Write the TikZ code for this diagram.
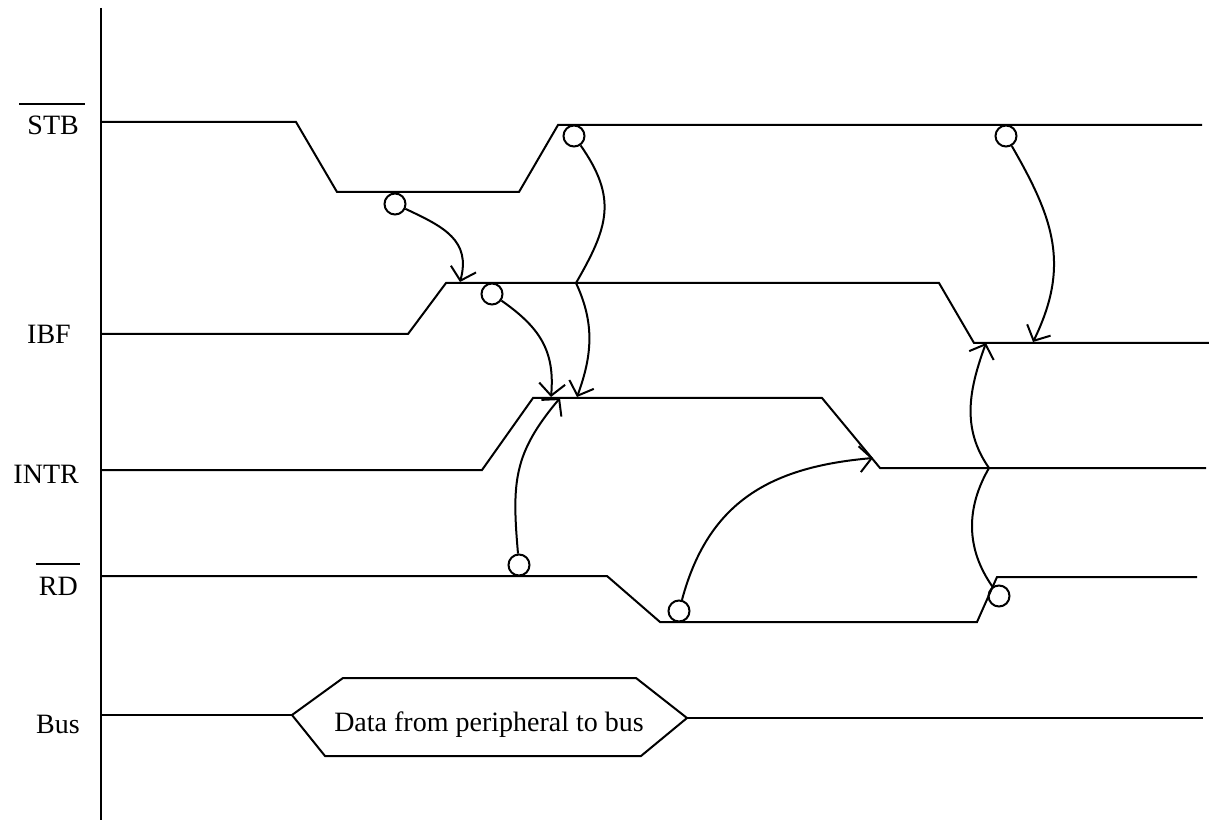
\documentclass[tikz,border=0pt]{standalone}
\usepackage{fontspec}
\setmainfont{Liberation Serif}
\usetikzlibrary{arrows.meta,calc}
\begin{document}
\begin{tikzpicture}[x=1pt,y=1pt,
  sig/.style={line width=2pt, line join=miter},
  dot/.style={circle, draw, line width=2pt, minimum size=21pt, inner sep=0pt},
  cause/.style={line width=2pt, -{Straight Barb[length=12pt,width=26pt]}},
  plain/.style={line width=2pt},
  lbl/.style={font=\fontsize{28}{30}\selectfont, inner sep=0pt, anchor=base east},
]
\useasboundingbox (0,0) rectangle (1209,820);
% axis
\draw[sig] (101,812) -- (101,0);
% signals
\draw[sig] (101,698) -- (296,698) -- (337,628) -- (519,628) -- (558,695) -- (1202,695);
\draw[sig] (101,486) -- (408,486) -- (446,537) -- (939,537) -- (974,477) -- (1209,477);
\draw[sig] (101,350) -- (482,350) -- (533,422) -- (822,422) -- (880,352) -- (1206,352);
\draw[sig] (101,244) -- (607,244) -- (660,198) -- (977,198) -- (997,243) -- (1197,243);
\draw[sig] (101,105) -- (292,105);
\draw[sig] (292,105) -- (343,142) -- (636,142) -- (687,102) -- (641,64) -- (325,64) -- cycle;
\draw[sig] (687,102) -- (1203,102);
% labels
\node[lbl] (lstb) at (79,685) {STB};
\draw[plain] ($(lstb.north west)+(-8,12)$) -- ($(lstb.north east)+(6,12)$);
\node[lbl] (libf) at (71,476) {IBF};
\node[lbl] (lintr) at (79,337) {INTR};
\node[lbl] (lrd) at (78,225) {RD};
\draw[plain] ($(lrd.north west)+(-3,12)$) -- ($(lrd.north east)+(2,12)$);
\node[lbl] (lbus) at (80,87) {Bus};
\node[font=\fontsize{28}{30}\selectfont, inner sep=0pt, anchor=base] (data) at (489,89) {Data from peripheral to bus};
% circles
\node[dot] (c1) at (395,616) {};
\node[dot] (c2) at (574,684) {};
\node[dot] (c3) at (1006,684) {};
\node[dot] (c4) at (492,526) {};
\node[dot] (c5) at (519,255) {};
\node[dot] (c6) at (679,209) {};
\node[dot] (c7) at (999,224) {};
% targets
\coordinate (t1) at (460,538);
\coordinate (j1) at (576,537);
\coordinate (t2) at (577,423);
\coordinate (t3) at (551,423);
\coordinate (t4) at (560,422);
\coordinate (t5) at (873,362);
\coordinate (t6) at (1033,478);
\coordinate (j2) at (989,352);
\coordinate (t7) at (986,477);
% arrows
\draw[cause] (c1) to[out=-25,in=75,looseness=1.2] (t1);
\draw[cause] (c2) to[out=-55,in=60,looseness=1.2] (j1) to[out=-65,in=70] (t2);
\draw[cause] (c4) to[out=-35,in=85,looseness=1.1] (t3);
\draw[cause] (c5) to[out=95,in=-130,looseness=1.15] (t4);
\draw[cause] (c6) to[out=75,in=185,looseness=1.1] (t5);
\draw[cause] (c3) to[out=-60,in=64,looseness=1.1] (t6);
\draw[cause] (c7) to[out=125,in=-120] (j2) to[out=125,in=-110] (t7);
\end{tikzpicture}
\end{document}
